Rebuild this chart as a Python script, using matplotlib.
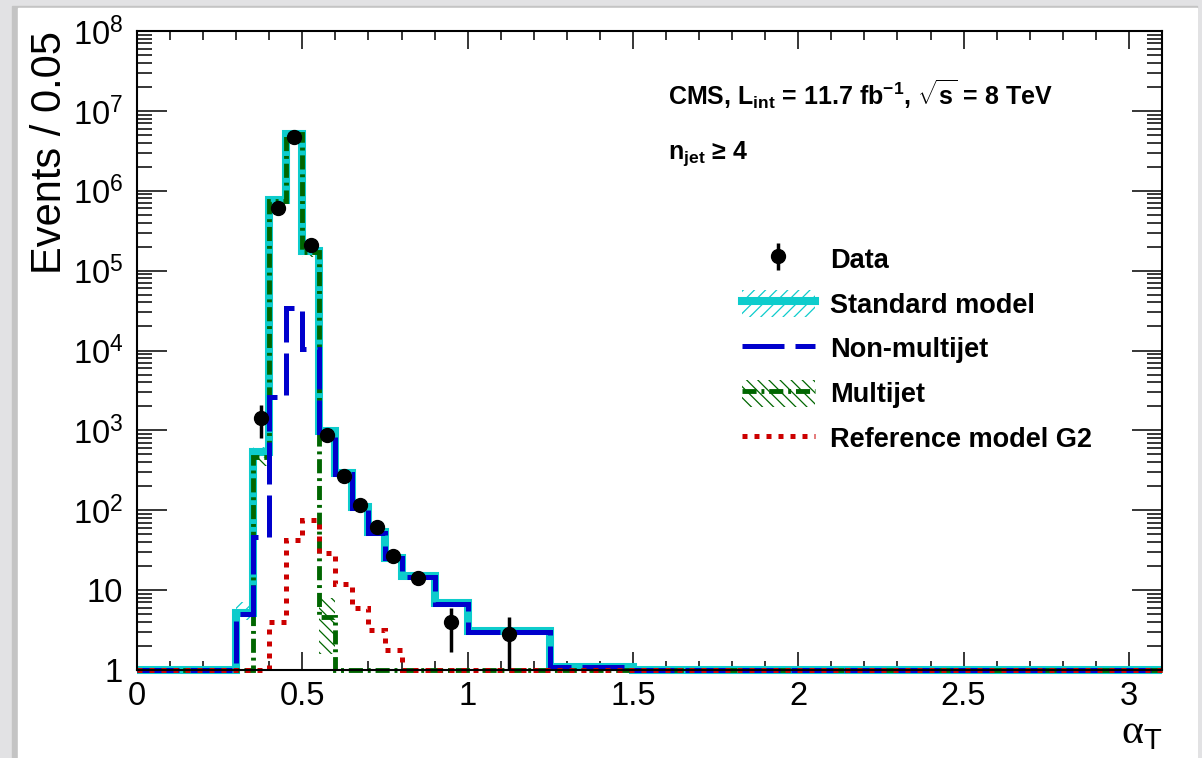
#!/usr/bin/env python3
"""alpha_T distribution, n_jet >= 4, log scale."""

import numpy as np
import matplotlib
matplotlib.use('Agg')
import matplotlib.pyplot as plt
from matplotlib.lines import Line2D
from matplotlib.patches import Patch, Rectangle
from matplotlib.legend_handler import HandlerTuple

plt.rcParams['font.family'] = ['Liberation Sans', 'DejaVu Sans']
plt.rcParams['mathtext.fontset'] = 'custom'
plt.rcParams['mathtext.rm'] = 'Liberation Sans'
plt.rcParams['mathtext.bf'] = 'Liberation Sans:bold'
plt.rcParams['mathtext.sf'] = 'Liberation Serif'
plt.rcParams['hatch.linewidth'] = 0.9

# bin edges in alpha_T
edges = [0.0, 0.30, 0.35, 0.40, 0.45, 0.50, 0.55, 0.60, 0.65, 0.70, 0.75,
         0.80, 0.90, 1.00, 1.25, 1.50, 3.10]

# standard model (with uncertainty band)
sm = [0, 5.2, 530, 7.6e5, 5.2e6, 1.75e5, 980, 290, 110, 53, 25, 15, 6.9, 3.1, 1.1, 0]
sm_lo = [0, 4.2, 450, 6.9e5, 4.8e6, 1.6e5, 900, 270, 100, 49, 23, 14, 6.4, 2.8, 1.0, 0]
sm_hi = [0, 7.0, 620, 8.3e5, 5.6e6, 1.9e5, 1060, 310, 120, 57, 27, 16, 7.4, 3.4, 1.2, 0]

# non-multijet
nonmj = [0, 5.0, 46, 2600, 34000, 10500, 950, 285, 108, 52, 25, 14.5, 6.8, 3.0, 1.08, 0]

# multijet (with uncertainty band)
mj = [0, 0, 470, 7.5e5, 5.2e6, 1.7e5, 4.6, 0, 0, 0, 0, 0, 0, 0, 0, 0]
mj_lo = [0, 0, 360, 6.8e5, 4.7e6, 1.5e5, 1.6, 0, 0, 0, 0, 0, 0, 0, 0, 0]
mj_hi = [0, 0, 580, 8.2e5, 5.7e6, 1.9e5, 8.0, 0, 0, 0, 0, 0, 0, 0, 0, 0]

# reference model G2
g2 = [0, 0, 0, 4.0, 42, 75, 29, 12, 6.0, 3.2, 1.8, 0, 0, 0, 0, 0]

# data
data_x = [0.375, 0.425, 0.475, 0.525, 0.575, 0.625, 0.675, 0.725, 0.775, 0.85, 0.95, 1.125]
data_y = [1420, 6.0e5, 4.7e6, 2.1e5, 870, 268, 116, 62, 27, 14, 4.0, 2.8]
err_down = [620, 800, 2200, 460, 30, 16, 11, 8, 5, 2.5, 2.3, 1.8]
err_up = [660, 800, 2200, 460, 30, 16, 11, 8, 5, 2.5, 2.0, 1.8]

ytick_vals = [1, 10, 1e2, 1e3, 1e4, 1e5, 1e6, 1e7, 1e8]
ytick_labels = ['1', '10'] + [r'$\mathregular{10^{%d}}$' % i for i in range(2, 9)]
xtick_vals = [0, 0.5, 1, 1.5, 2, 2.5, 3]
xtick_labels = ['0', '0.5', '1', '1.5', '2', '2.5', '3']

C_SM = '#0dcccc'
C_NM = '#0000cc'
C_MJ = '#006600'
C_G2 = '#cc0000'

LS_NM = (0, (8.4, 2.2))
LS_MJ = (0, (2.9, 1.0, 0.6, 1.0))
LS_G2 = (0, (1.0, 1.4))

FLOOR = 1.0


def floor(v):
    return np.clip(np.asarray(v, dtype=float), FLOOR, None)


fig = plt.figure(figsize=(12.02, 7.58), dpi=100, facecolor='#e2e2e4')
W, H = 1202, 758
# paper sheet with a soft shadow
fig.patches.append(Rectangle((12 / W, 0), (1197 - 12) / W, 1 - 6 / H,
                             transform=fig.transFigure, color='#c4c4c4', zorder=-2))
fig.patches.append(Rectangle((18 / W, 0), (1197 - 18) / W, 1 - 8 / H,
                             transform=fig.transFigure, color='white', zorder=-1))

ax = fig.add_axes([137 / W, 88 / H, 1025 / W, 639 / H])
ax.set_facecolor('white')
ax.set_yscale('log')
ax.set_xlim(0, 3.1)
ax.set_ylim(1, 1e8)

# uncertainty bands
ax.stairs(floor(sm_hi), edges, baseline=floor(sm_lo), fill=True, facecolor='none',
          edgecolor=C_SM, hatch='///', linewidth=0, zorder=1)
ax.stairs(floor(mj_hi), edges, baseline=floor(mj_lo), fill=True, facecolor='none',
          edgecolor=C_MJ, hatch='\\\\\\', linewidth=0, zorder=2)

# histograms
ax.stairs(floor(sm), edges, baseline=None, color=C_SM, linewidth=5.8,
          zorder=3, clip_on=False)
ax.stairs(floor(mj), edges, baseline=None, color=C_MJ, linewidth=3.5,
          linestyle=LS_MJ, zorder=4, clip_on=False)
ax.stairs(floor(nonmj), edges, baseline=None, color=C_NM, linewidth=3.6,
          linestyle=LS_NM, zorder=5, clip_on=False)
ax.stairs(floor(g2), edges, baseline=None, color=C_G2, linewidth=3.6,
          linestyle=LS_G2, zorder=6, clip_on=False)

# data
data_h = ax.errorbar(data_x, data_y, yerr=[err_down, err_up], fmt='o', color='black',
                     markersize=10, elinewidth=2.5, capsize=0, zorder=8, clip_on=False)

# axes style
for sp in ax.spines.values():
    sp.set_linewidth(1.5)
    sp.set_zorder(7)
ax.set_xticks(xtick_vals, xtick_labels)
ax.set_xticks(np.arange(0, 3.11, 0.1), minor=True)
ax.set_yticks(ytick_vals, ytick_labels)
ax.yaxis.set_minor_locator(matplotlib.ticker.LogLocator(base=10, subs=np.arange(2, 10), numticks=20))
ax.yaxis.set_minor_formatter(matplotlib.ticker.NullFormatter())
ax.tick_params(axis='both', which='both', direction='in', top=True, right=True,
               width=1.1, labelsize=23.5)
ax.tick_params(axis='x', which='major', length=13, pad=8)
ax.tick_params(axis='x', which='minor', length=6.5)
ax.tick_params(axis='y', which='major', length=21.5, pad=10)
ax.tick_params(axis='y', which='minor', length=11)

ax.set_ylabel('Events / 0.05', fontsize=30, loc='top', labelpad=2)
ax.set_xlabel(r'$\mathsf{\alpha}_{\mathregular{T}}$', fontsize=30, loc='right', labelpad=0)

ax.text(0.518, 0.884, r'CMS, L$_{\mathbf{int}}$ = 11.7 fb$^{\mathbf{-1}}$, $\sqrt{\mathbf{s}}$ = 8 TeV',
        transform=ax.transAxes, fontsize=18, fontweight='bold', va='baseline')
ax.text(0.518, 0.800, r'n$_{\mathbf{jet}}$ ≥ 4',
        transform=ax.transAxes, fontsize=18, fontweight='bold', va='baseline')

# legend
sm_patch = Patch(facecolor='none', edgecolor=C_SM, hatch='///', linewidth=0)
sm_line = Line2D([], [], color=C_SM, linewidth=5.8)
nm_line = Line2D([], [], color=C_NM, linewidth=3.6, linestyle=LS_NM)
mj_patch = Patch(facecolor='none', edgecolor=C_MJ, hatch='\\\\\\', linewidth=0)
mj_line = Line2D([], [], color=C_MJ, linewidth=3.5, linestyle=LS_MJ)
g2_line = Line2D([], [], color=C_G2, linewidth=3.6, linestyle=LS_G2)

ax.legend([data_h, (sm_patch, sm_line), nm_line, (mj_patch, mj_line), g2_line],
          ['Data', 'Standard model', 'Non-multijet', 'Multijet', 'Reference model G2'],
          handler_map={tuple: HandlerTuple(ndivide=1, pad=0)},
          loc='upper left', bbox_to_anchor=(0.590, 0.665), frameon=False,
          prop={'weight': 'bold', 'size': 19.5}, handlelength=2.7, handleheight=1.15,
          labelspacing=0.6, handletextpad=0.55, borderpad=0, borderaxespad=0)

fig.savefig('out.png', dpi=100, facecolor=fig.get_facecolor())
